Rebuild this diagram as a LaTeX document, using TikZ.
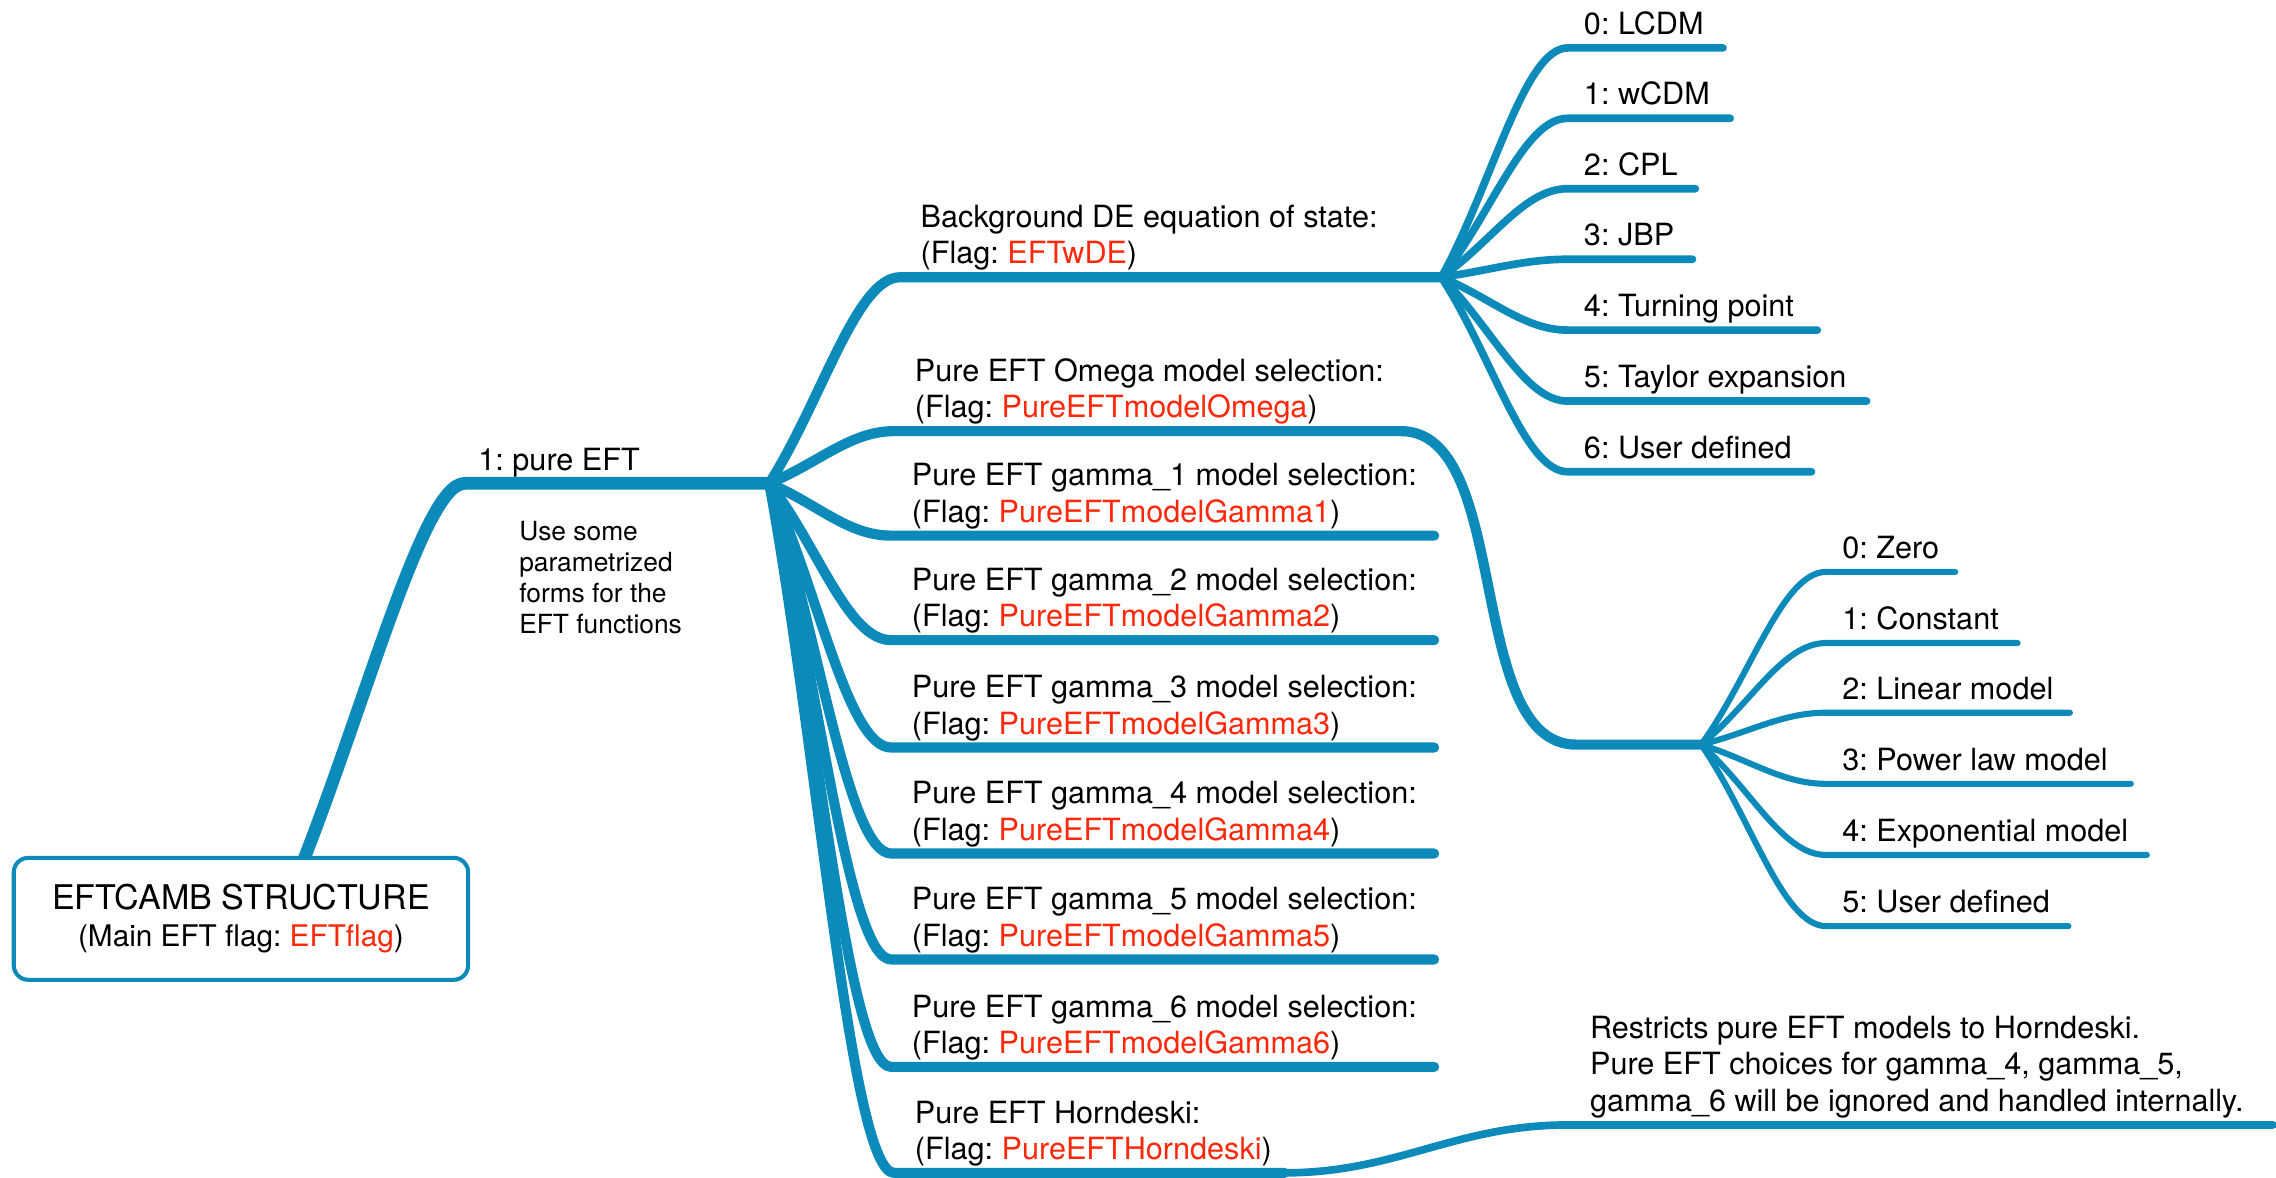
\documentclass[tikz,border=0pt]{standalone}
\usepackage{fontspec}
\setmainfont{TeX Gyre Heros}
\usepackage{tikz}
\usetikzlibrary{positioning,calc}
\definecolor{mapblue}{RGB}{12,139,187}
\definecolor{flagred}{RGB}{255,40,10}
\newcommand{\flagname}[1]{\textcolor{flagred}{#1}}
\frenchspacing
\tikzset{%
  rootbox/.style = {shape=rectangle, rounded corners=8.5pt,%
                    draw=mapblue, line width=2.4pt, fill=white, align=center,%
                    minimum width=9.39cm, minimum height=2.52cm,%
                    font=\fontsize{20}{22}\selectfont},%
  branch/.style  = {draw=mapblue, line cap=round, line join=round},%
  trunk/.style   = {branch, line width=7.5pt},%
  limb/.style    = {branch, line width=6pt},%
  twig/.style    = {branch, line width=4.5pt},%
  leaf/.style    = {branch, line width=3.6pt},%
  tag/.style     = {inner sep=0pt, text depth=0pt, align=left,%
                    font=\fontsize{18}{21.3}\selectfont},%
  note/.style    = {inner sep=0pt, align=left, font=\fontsize{15.5}{18.3}\selectfont}%
}

\begin{document}
\begin{tikzpicture}[x=0.03cm,y=-0.03cm,
	sprout/.style={to path={.. controls ($(\tikztostart)!0.4!(\tikztotarget)$) and ($(\tikztotarget)+(-30,0)$) .. (\tikztotarget)}}]
	\useasboundingbox (0,0) rectangle (1568,811);
	\coordinate (r0) at (198,620);
	\coordinate (pe-a) at (320,333);
	\coordinate (j1) at (530,333);
	\coordinate (bg-a) at (620,191);
	\coordinate (j2) at (993,191);
	\coordinate (om-a) at (616,297);
	\coordinate (om-b) at (965,297);
	\coordinate (om-c) at (1086,513);
	\coordinate (j3) at (1172,513);
	\coordinate (ga1-a) at (614,369);
	\coordinate (ga2-a) at (614,441);
	\coordinate (ga3-a) at (614,515);
	\coordinate (ga4-a) at (614,588);
	\coordinate (ga5-a) at (614,661);
	\coordinate (ga6-a) at (614,735);
	\coordinate (hd-a) at (616,808);
	\coordinate (hd-b) at (885,808);
	\coordinate (hd-c) at (1080,775);
	\coordinate (lcdm-a) at (1080,33);
	\coordinate (wcdm-a) at (1080,81.5);
	\coordinate (cpl-a) at (1080,130);
	\coordinate (jbp-a) at (1080,178.6);
	\coordinate (turn-a) at (1080,227.4);
	\coordinate (taylor-a) at (1080,276.3);
	\coordinate (userw-a) at (1080,325);
	\coordinate (zero-a) at (1258,394);
	\coordinate (const-a) at (1258,443);
	\coordinate (linear-a) at (1258,491);
	\coordinate (power-a) at (1258,540);
	\coordinate (expo-a) at (1258,589);
	\coordinate (userg-a) at (1258,638);

	\draw[trunk] (r0) to[sprout] (pe-a) -- (j1);
	\draw[limb] (j1) to[sprout] (bg-a) -- (j2);
	\draw[limb] (j1) to[sprout] (om-a) -- (om-b) to[out=0,in=180,looseness=0.8] (om-c) -- (j3);
	\draw[limb] (j1) to[sprout] (ga1-a) -- +(374,0) coordinate (ga1-b);
	\draw[limb] (j1) to[sprout] (ga2-a) -- +(374,0) coordinate (ga2-b);
	\draw[limb] (j1) to[sprout] (ga3-a) -- +(374,0) coordinate (ga3-b);
	\draw[limb] (j1) to[sprout] (ga4-a) -- +(374,0) coordinate (ga4-b);
	\draw[limb] (j1) to[sprout] (ga5-a) -- +(374,0) coordinate (ga5-b);
	\draw[limb] (j1) to[sprout] (ga6-a) -- +(374,0) coordinate (ga6-b);
	\draw[limb] (j1) to[sprout] (hd-a) -- (hd-b);
	\draw[twig] (hd-b) to[out=0,in=180] (hd-c) -- +(486,0) coordinate (hd-d);
	\draw[twig] (j2) to[sprout] (lcdm-a) -- +(107,0) coordinate (lcdm-b);
	\draw[twig] (j2) to[sprout] (wcdm-a) -- +(112,0) coordinate (wcdm-b);
	\draw[twig] (j2) to[sprout] (cpl-a) -- +(88,0) coordinate (cpl-b);
	\draw[twig] (j2) to[sprout] (jbp-a) -- +(86,0) coordinate (jbp-b);
	\draw[twig] (j2) to[sprout] (turn-a) -- +(172,0) coordinate (turn-b);
	\draw[twig] (j2) to[sprout] (taylor-a) -- +(206,0) coordinate (taylor-b);
	\draw[twig] (j2) to[sprout] (userw-a) -- +(168,0) coordinate (userw-b);
	\draw[leaf] (j3) to[sprout] (zero-a) -- +(89,0) coordinate (zero-b);
	\draw[leaf] (j3) to[sprout] (const-a) -- +(132,0) coordinate (const-b);
	\draw[leaf] (j3) to[sprout] (linear-a) -- +(168,0) coordinate (linear-b);
	\draw[leaf] (j3) to[sprout] (power-a) -- +(210,0) coordinate (power-b);
	\draw[leaf] (j3) to[sprout] (expo-a) -- +(221,0) coordinate (expo-b);
	\draw[leaf] (j3) to[sprout] (userg-a) -- +(167,0) coordinate (userg-b);

	\node[rootbox] (root) at (166,633) {EFTCAMB STRUCTURE\\{\fontsize{17.5}{21}\selectfont(Main EFT flag: \flagname{EFTflag})}};
	\node[tag, above right=7.5pt and 8pt of pe-a] (pe) {1: pure EFT};
	\node[note, below right=22pt and 32pt of pe-a] (pe-note) {Use some\\parametrized\\forms for the\\EFT functions};
	\node[tag, above right=7.7pt and 12pt of bg-a] (bg) {Background DE equation of state:\\(Flag: \flagname{EFTwDE})};
	\node[tag, above right=7.7pt and 12pt of om-a] (om) {Pure EFT Omega model selection:\\(Flag: \flagname{PureEFTmodelOmega})};
	\node[tag, above right=7.7pt and 12pt of ga1-a] (ga1) {Pure EFT gamma\_1 model selection:\\(Flag: \flagname{PureEFTmodelGamma1})};
	\node[tag, above right=7.7pt and 12pt of ga2-a] (ga2) {Pure EFT gamma\_2 model selection:\\(Flag: \flagname{PureEFTmodelGamma2})};
	\node[tag, above right=7.7pt and 12pt of ga3-a] (ga3) {Pure EFT gamma\_3 model selection:\\(Flag: \flagname{PureEFTmodelGamma3})};
	\node[tag, above right=7.7pt and 12pt of ga4-a] (ga4) {Pure EFT gamma\_4 model selection:\\(Flag: \flagname{PureEFTmodelGamma4})};
	\node[tag, above right=7.7pt and 12pt of ga5-a] (ga5) {Pure EFT gamma\_5 model selection:\\(Flag: \flagname{PureEFTmodelGamma5})};
	\node[tag, above right=7.7pt and 12pt of ga6-a] (ga6) {Pure EFT gamma\_6 model selection:\\(Flag: \flagname{PureEFTmodelGamma6})};
	\node[tag, above right=7.7pt and 12pt of hd-a] (hd) {Pure EFT Horndeski:\\(Flag: \flagname{PureEFTHorndeski})};
	\node[tag, above right=8pt and 13pt of hd-c] (hd-note) {Restricts pure EFT models to Horndeski.\\Pure EFT choices for gamma\_4, gamma\_5,\\gamma\_6 will be ignored and handled internally.};
	\node[tag, above right=7.7pt and 9.4pt of lcdm-a] (lcdm) {0: LCDM};
	\node[tag, above right=7.7pt and 9.4pt of wcdm-a] (wcdm) {1: wCDM};
	\node[tag, above right=7.7pt and 9.4pt of cpl-a] (cpl) {2: CPL};
	\node[tag, above right=7.7pt and 9.4pt of jbp-a] (jbp) {3: JBP};
	\node[tag, above right=7.7pt and 9.4pt of turn-a] (turn) {4: Turning point};
	\node[tag, above right=7.7pt and 9.4pt of taylor-a] (taylor) {5: Taylor expansion};
	\node[tag, above right=7.7pt and 9.4pt of userw-a] (userw) {6: User defined};
	\node[tag, above right=7.7pt and 9.4pt of zero-a] (zero) {0: Zero};
	\node[tag, above right=7.7pt and 9.4pt of const-a] (const) {1: Constant};
	\node[tag, above right=7.7pt and 9.4pt of linear-a] (linear) {2: Linear model};
	\node[tag, above right=7.7pt and 9.4pt of power-a] (power) {3: Power law model};
	\node[tag, above right=7.7pt and 9.4pt of expo-a] (expo) {4: Exponential model};
	\node[tag, above right=7.7pt and 9.4pt of userg-a] (userg) {5: User defined};
\end{tikzpicture}
\end{document}
